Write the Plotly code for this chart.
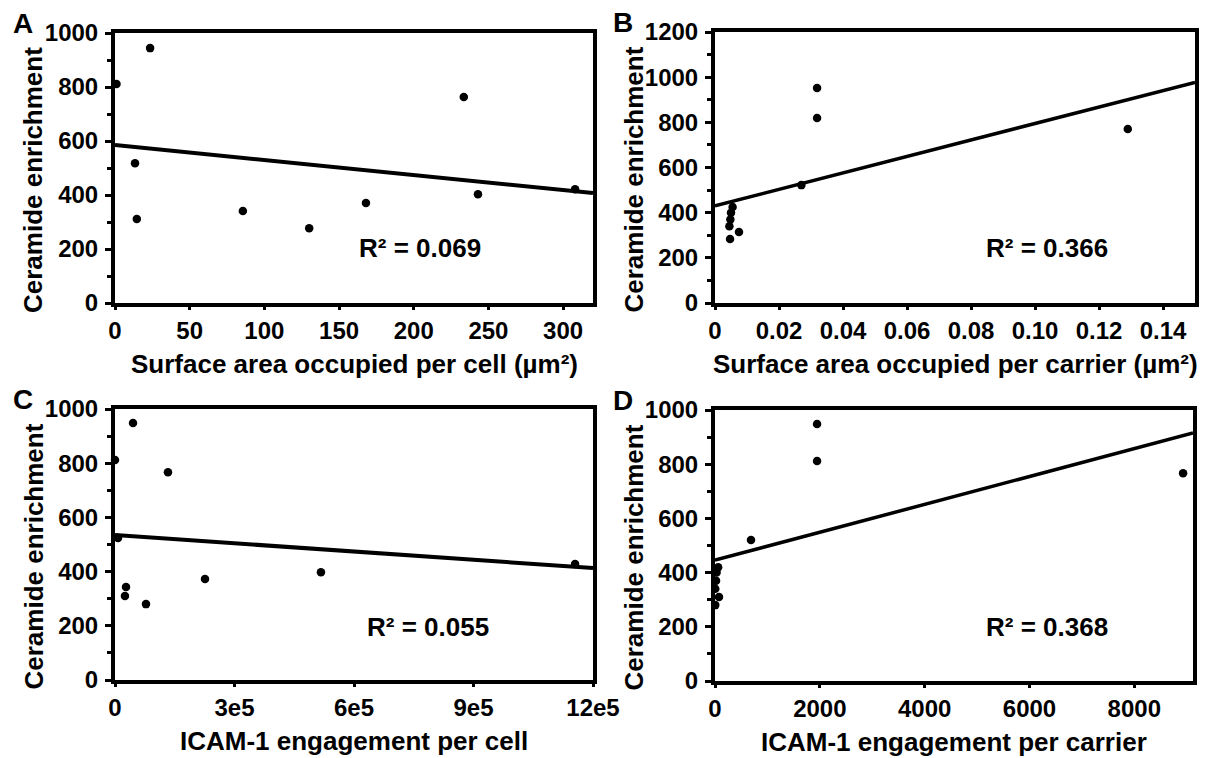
import plotly.graph_objects as go

# ---------------- data ----------------
ceramide_A = [811, 944, 518, 311, 341, 277, 370, 763, 403, 421]
area_cell_A = [1, 23.5, 13.4, 14.6, 85.6, 130, 168, 233.5, 243, 308]
fit_x_A = [0, 320]
fit_y_A = [585, 407]

ceramide_B = [952, 819, 770, 522, 283, 314, 340, 370, 400, 425]
area_carrier_B = [0.0319, 0.0319, 0.129, 0.027, 0.0047, 0.0075, 0.0045, 0.0048, 0.005, 0.0055]
fit_x_B = [0, 0.15]
fit_y_B = [430, 977]

ceramide_C = [948, 767, 524, 812, 343, 310, 280, 373, 398, 428]
icam_cell_C = [45200, 133000, 7500, 0, 27600, 25000, 77800, 226000, 517000, 1155000]
fit_x_C = [0, 1200000]
fit_y_C = [535, 413]

ceramide_D = [948, 812, 520, 767, 420, 400, 370, 340, 310, 280]
icam_carrier_D = [1947, 1947, 687, 8931, 60, 30, 20, 5, 76, 5]
fit_x_D = [0, 9120]
fit_y_D = [446, 915]

x_tick_A = [0, 50, 100, 150, 200, 250, 300]
x_tick_B = [0, 0.02, 0.04, 0.06, 0.08, 0.10, 0.12, 0.14]
x_text_B = ["0", "0.02", "0.04", "0.06", "0.08", "0.10", "0.12", "0.14"]
x_tick_C = [0, 300000, 600000, 900000, 1200000]
x_text_C = ["0", "3e5", "6e5", "9e5", "12e5"]
x_tick_D = [0, 2000, 4000, 6000, 8000]

x_titles = ["Surface area occupied per cell (µm²)",
            "Surface area occupied per carrier (µm²)",
            "ICAM-1 engagement per cell",
            "ICAM-1 engagement per carrier"]
y_title = "Ceramide enrichment"
letters = ["A", "B", "C", "D"]
r2_texts = ["R² = 0.069", "R² = 0.366", "R² = 0.055", "R² = 0.368"]

# ---------------- layout (pixels) ----------------
W, H = 1213, 758
OFF = 8  # page body margin
FONT = "Arial, Liberation Sans, sans-serif"
TICK_FS, TITLE_FS, R2_FS, LETTER_FS = 24, 26, 26, 28

panels = [
    dict(xs=area_cell_A, ys=ceramide_A, fx=fit_x_A, fy=fit_y_A, xr=[0, 320], yr=[0, 1000],
         xt=x_tick_A, xtt=[str(v) for v in x_tick_A], yt=list(range(0, 1001, 200)),
         px=(115, 593), py=(33, 303), lw=4),
    dict(xs=area_carrier_B, ys=ceramide_B, fx=fit_x_B, fy=fit_y_B, xr=[0, 0.15], yr=[0, 1200],
         xt=x_tick_B, xtt=x_text_B, yt=list(range(0, 1201, 200)),
         px=(715, 1195), py=(32, 303), lw=3.5),
    dict(xs=icam_cell_C, ys=ceramide_C, fx=fit_x_C, fy=fit_y_C, xr=[0, 1200000], yr=[0, 1000],
         xt=x_tick_C, xtt=x_text_C, yt=list(range(0, 1001, 200)),
         px=(115, 593), py=(409, 680), lw=4),
    dict(xs=icam_carrier_D, ys=ceramide_D, fx=fit_x_D, fy=fit_y_D, xr=[0, 9120], yr=[0, 1000],
         xt=x_tick_D, xtt=[str(v) for v in x_tick_D], yt=list(range(0, 1001, 200)),
         px=(715, 1193), py=(410, 681), lw=3.5),
]

fig = go.Figure()
layout = dict(width=W, height=H, margin=dict(l=0, r=0, t=0, b=0),
              paper_bgcolor="white", plot_bgcolor="white", showlegend=False)
annotations = []

def fx_(p):
    return (p - OFF) / W

def fy_(p):
    return 1 - (p - OFF) / H

for i, p in enumerate(panels):
    n = "" if i == 0 else str(i + 1)
    xa, ya = "x" + n, "y" + n
    fig.add_trace(go.Scatter(x=p["fx"], y=p["fy"], mode="lines", xaxis=xa, yaxis=ya,
                             line=dict(color="black", width=p["lw"]), hoverinfo="skip"))
    fig.add_trace(go.Scatter(x=p["xs"], y=p["ys"], mode="markers", xaxis=xa, yaxis=ya,
                             marker=dict(color="black", size=8.5), cliponaxis=False))
    x0, x1 = p["px"]
    y0, y1 = p["py"]
    layout["xaxis" + n] = dict(domain=[fx_(x0), fx_(x1)], range=p["xr"], anchor=ya,
                               automargin=False,
                               showline=True, linecolor="black", linewidth=4, mirror=True,
                               ticks="outside", ticklen=3, tickwidth=3, tickcolor="black",
                               tickvals=p["xt"], ticktext=p["xtt"], showgrid=False, zeroline=False,
                               ticklabelstandoff=0,
                               tickfont=dict(family=FONT, size=TICK_FS, color="black", weight="bold"))
    layout["yaxis" + n] = dict(domain=[fy_(y1), fy_(y0)], range=p["yr"], anchor=xa,
                               automargin=False,
                               showline=True, linecolor="black", linewidth=4, mirror=True,
                               ticks="outside", ticklen=6, tickwidth=3, tickcolor="black",
                               tickvals=p["yt"], showgrid=False, zeroline=False,
                               ticklabelstandoff=2,
                               minor=dict(ticks="outside", ticklen=4, tickwidth=3, tickcolor="black", dtick=100),
                               tickfont=dict(family=FONT, size=TICK_FS, color="black", weight="bold"))
    # axis titles
    annotations.append(dict(text=x_titles[i], xref="paper", yref="paper",
                            x=fx_((x0 + x1) / 2), y=fy_(y1 + 61), xanchor="center", yanchor="middle",
                            showarrow=False, font=dict(family=FONT, size=TITLE_FS, color="black", weight="bold")))
    annotations.append(dict(text=y_title, xref="paper", yref="paper", textangle=-90,
                            x=fx_(x0 - 82), y=fy_((y0 + y1) / 2 + 12), xanchor="center", yanchor="middle",
                            showarrow=False, font=dict(family=FONT, size=TITLE_FS, color="black", weight="bold")))
    annotations.append(dict(text=letters[i], xref="paper", yref="paper",
                            x=fx_(x0 - 92), y=fy_(y0 - 10), xanchor="center", yanchor="middle",
                            showarrow=False, font=dict(family=FONT, size=LETTER_FS, color="black", weight="bold")))

r2_pos = [(420, 248), (1047, 248), (428, 627), (1047, 627)]
for (cx, cy), t in zip(r2_pos, r2_texts):
    annotations.append(dict(text=t, xref="paper", yref="paper", x=fx_(cx), y=fy_(cy),
                            xanchor="center", yanchor="middle", showarrow=False,
                            font=dict(family=FONT, size=R2_FS, color="black", weight="bold")))

layout["annotations"] = annotations
fig.update_layout(**layout)
fig.write_html("out.html")
